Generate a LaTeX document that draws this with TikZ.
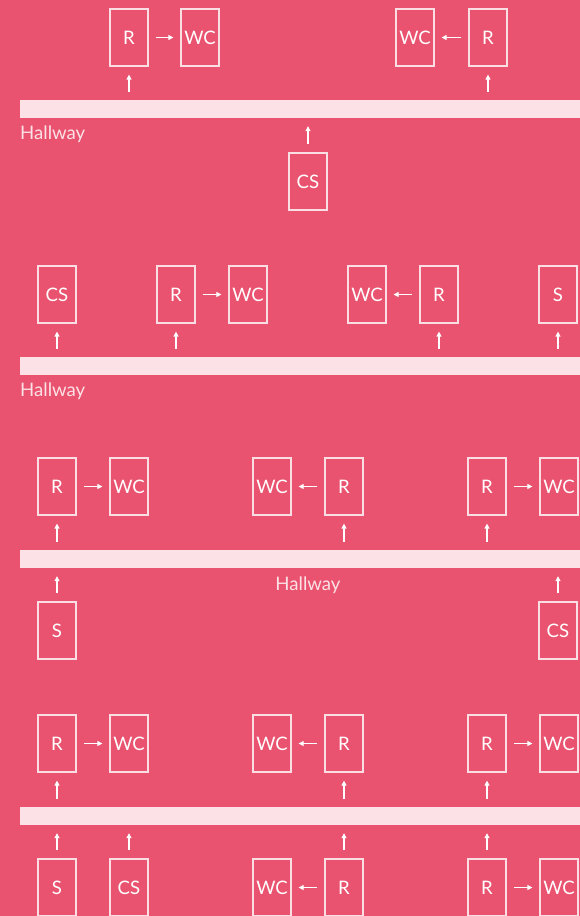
\documentclass[tikz,border=0pt]{standalone}
\usepackage{fontspec}
\setmainfont{Lato}
\usetikzlibrary{arrows.meta,positioning}
\definecolor{paletteRose}{RGB}{233,83,111}
\definecolor{hallPink}{RGB}{252,226,230}
\definecolor{lineBlush}{RGB}{250,222,227}

\begin{document}
\begin{tikzpicture}[
  x=1pt, y=-1pt,
  font=\fontsize{18.6}{22}\selectfont,
  roomBox/.style={draw=lineBlush, line width=1.2pt, minimum width=38pt, minimum height=57pt, inner sep=0pt, text=white},
  hallBar/.style={fill=hallPink, minimum width=560pt, minimum height=18pt, inner sep=0pt},
  hallLabel/.style={text=hallPink, inner sep=0pt},
  arrow/.style={-{Triangle[length=5pt,width=5pt]}, line width=1.1pt, draw=white, shorten <=7pt, shorten >=7pt},
  upArrow/.style={arrow, shorten <=8pt, shorten >=8pt}
]
\fill[paletteRose] (0,0) rectangle (580,916);
\useasboundingbox (0,0) rectangle (580,916);

% floor 1
\node[roomBox] (r1) at (129,37.5) {R};
\node[roomBox] (wc1) at (200,37.5) {WC};
\node[roomBox] (wc2) at (415,37.5) {WC};
\node[roomBox] (r2) at (488,37.5) {R};
\node[hallBar] (hall1) at (300,109) {};
\node[hallLabel, anchor=west] (lab1) at (20,134) {Hallway};
\node[roomBox] (cs1) at (308,181.5) {CS};
\draw[arrow] (r1) -- (wc1);
\draw[arrow] (r2) -- (wc2);
\draw[upArrow] (hall1.north -| r1) -- (r1);
\draw[upArrow] (hall1.north -| r2) -- (r2);
\draw[upArrow] (cs1) -- (hall1.south -| cs1);

% floor 2
\node[roomBox] (cs2) at (57,294.5) {CS};
\node[roomBox] (r3) at (176,294.5) {R};
\node[roomBox] (wc3) at (248,294.5) {WC};
\node[roomBox] (wc4) at (367,294.5) {WC};
\node[roomBox] (r4) at (439,294.5) {R};
\node[roomBox] (s1) at (558,294.5) {S};
\node[hallBar] (hall2) at (300,366) {};
\node[hallLabel, anchor=west] (lab2) at (20,391) {Hallway};
\draw[arrow] (r3) -- (wc3);
\draw[arrow] (r4) -- (wc4);
\draw[upArrow] (hall2.north -| cs2) -- (cs2);
\draw[upArrow] (hall2.north -| r3) -- (r3);
\draw[upArrow] (hall2.north -| r4) -- (r4);
\draw[upArrow] (hall2.north -| s1) -- (s1);

% floor 3
\node[roomBox] (r5) at (57,486.5) {R};
\node[roomBox] (wc5) at (129,486.5) {WC};
\node[roomBox] (wc6) at (272,486.5) {WC};
\node[roomBox] (r6) at (344,486.5) {R};
\node[roomBox] (r7) at (487,486.5) {R};
\node[roomBox] (wc7) at (559,486.5) {WC};
\node[hallBar] (hall3) at (300,559) {};
\node[hallLabel] (lab3) at (308,585) {Hallway};
\node[roomBox] (s2) at (57,630.5) {S};
\node[roomBox] (cs3) at (558,630.5) {CS};
\draw[arrow] (r5) -- (wc5);
\draw[arrow] (r6) -- (wc6);
\draw[arrow] (r7) -- (wc7);
\draw[upArrow] (hall3.north -| r5) -- (r5);
\draw[upArrow] (hall3.north -| r6) -- (r6);
\draw[upArrow] (hall3.north -| r7) -- (r7);
\draw[upArrow] (s2) -- (hall3.south -| s2);
\draw[upArrow] (cs3) -- (hall3.south -| cs3);

% floor 4
\node[roomBox] (r8) at (57,743.5) {R};
\node[roomBox] (wc8) at (129,743.5) {WC};
\node[roomBox] (wc9) at (272,743.5) {WC};
\node[roomBox] (r9) at (344,743.5) {R};
\node[roomBox] (r10) at (487,743.5) {R};
\node[roomBox] (wc10) at (559,743.5) {WC};
\node[hallBar] (hall4) at (300,816) {};
\node[roomBox] (s3) at (57,887.5) {S};
\node[roomBox] (cs4) at (129,887.5) {CS};
\node[roomBox] (wc11) at (272,887.5) {WC};
\node[roomBox] (r11) at (344,887.5) {R};
\node[roomBox] (r12) at (487,887.5) {R};
\node[roomBox] (wc12) at (559,887.5) {WC};
\draw[arrow] (r8) -- (wc8);
\draw[arrow] (r9) -- (wc9);
\draw[arrow] (r10) -- (wc10);
\draw[arrow] (r11) -- (wc11);
\draw[arrow] (r12) -- (wc12);
\draw[upArrow] (hall4.north -| r8) -- (r8);
\draw[upArrow] (hall4.north -| r9) -- (r9);
\draw[upArrow] (hall4.north -| r10) -- (r10);
\draw[upArrow] (s3) -- (hall4.south -| s3);
\draw[upArrow] (cs4) -- (hall4.south -| cs4);
\draw[upArrow] (r11) -- (hall4.south -| r11);
\draw[upArrow] (r12) -- (hall4.south -| r12);
\end{tikzpicture}
\end{document}
